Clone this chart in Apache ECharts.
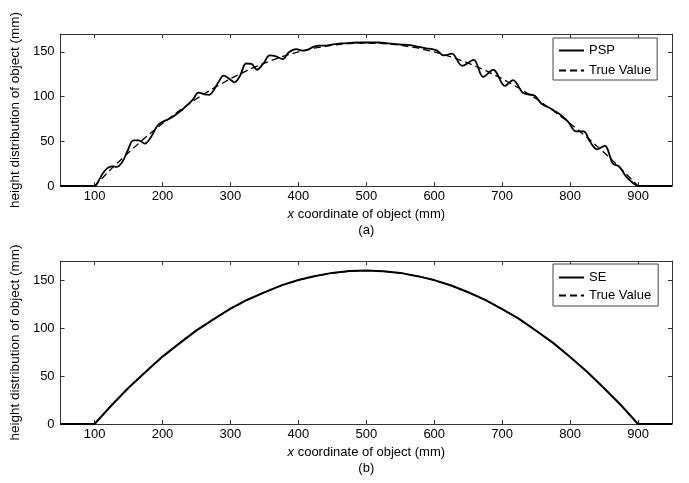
<!DOCTYPE html>
<html>
<head>
<meta charset="utf-8">
<script src="https://cdn.jsdelivr.net/npm/echarts@6/dist/echarts.min.js"></script>
<style>
html,body{margin:0;padding:0;background:#fff;}
#chart{width:689px;height:483px;}
</style>
</head>
<body>
<div id="chart"></div>
<script>
// ---- data ----
const xTicks = [100, 200, 300, 400, 500, 600, 700, 800, 900];
const yTicks = [0, 50, 100, 150];

const trueX = [50, 100, 125, 150, 175, 200, 225, 250, 275, 300, 325, 350, 375, 400, 425, 450, 475, 500,
  525, 550, 575, 600, 625, 650, 675, 700, 725, 750, 775, 800, 825, 850, 875, 900, 950];
const trueY = [0, 0, 19.4, 37.5, 54.4, 70, 84.4, 97.5, 109.4, 120, 129.4, 137.5, 144.4, 150, 154.4, 157.5, 159.4, 160,
  159.4, 157.5, 154.4, 150, 144.4, 137.5, 129.4, 120, 109.4, 97.5, 84.4, 70, 54.4, 37.5, 19.4, 0, 0];

const pspX = [50, 100, 106, 112, 119, 126, 133, 141, 149, 157, 165, 174, 184, 193, 201, 211, 222, 235, 245, 253,
  262, 269, 276, 283, 290, 299, 306, 314, 323, 331, 339, 348, 358, 367, 377, 386, 397, 406, 414, 422,
  431, 441, 451, 463, 476, 490, 505, 518, 532, 548, 565, 578, 588, 597, 604, 614, 626, 641, 658, 672,
  687, 704, 716, 731, 748, 758, 768, 777, 787, 797, 809, 820, 829, 840, 851, 863, 872, 882, 893, 900, 950];
const pspY = [0, 0, 6, 14, 20, 22, 21.5, 27, 40, 51, 51, 47.5, 56, 68, 72, 75.5, 81, 89.5, 97, 104.5,
  102.5, 102, 108, 117, 123.5, 119.5, 116, 123, 137, 136.5, 130, 136.5, 146, 145, 142, 149.5, 153, 151.5, 152.5, 155.5,
  157, 157, 158.5, 159.5, 160, 160.5, 160.5, 160.5, 159.5, 158.5, 157.5, 155.5, 154, 153, 151.5, 146, 148, 134.5, 141, 122,
  130, 112, 118.5, 104, 101, 92, 88, 84, 79, 72, 61, 61, 50, 41, 45, 25, 22, 11, 3, 0, 0];

const seX = [50, 100, 125, 150, 175, 200, 225, 250, 275, 300, 325, 350, 375, 400, 425, 450, 475, 500,
  525, 550, 575, 600, 625, 650, 675, 700, 725, 750, 775, 800, 825, 850, 875, 900, 950];
const seY = [0, 0, 19.6, 37.8, 54.2, 70.3, 84.1, 97.6, 109.2, 120.3, 129.6, 137.3, 144.6, 150.2, 154.3, 157.6, 159.5, 160.1,
  159.3, 157.6, 154.2, 150.1, 144.5, 137.4, 129.5, 119.8, 109.6, 97.3, 84.6, 69.8, 54.5, 37.3, 19.6, 0, 0];

const xTitleA = '{i|x} coordinate of object (mm)\n(a)';
const xTitleB = '{i|x} coordinate of object (mm)\n(b)';
const yTitle = 'height distribution of object (mm)';

// ---- chart ----
const FONT = '"Liberation Sans", Arial, sans-serif';
const AX = '#333';
const TXT = '#000';
const pairs = (xs, ys) => xs.map((x, i) => [x, ys[i]]);

function xAxisPair(gridIndex, title) {
  return [
    {
      type: 'value', gridIndex, min: 50, max: 950, position: 'bottom',
      axisLine: { show: true, onZero: false, lineStyle: { color: AX, width: 1 } },
      axisTick: { show: true, inside: true, length: 4, customValues: xTicks, lineStyle: { color: AX } },
      axisLabel: { customValues: xTicks, color: TXT, fontSize: 13, fontFamily: FONT, margin: 4 },
      splitLine: { show: false },
      name: title, nameLocation: 'middle', nameGap: 20,
      nameTextStyle: {
        color: TXT, fontSize: 13, fontFamily: FONT, lineHeight: 16, align: 'center',
        rich: { i: { fontStyle: 'italic', fontSize: 13, fontFamily: FONT, color: TXT, lineHeight: 16 } }
      }
    },
    {
      type: 'value', gridIndex, min: 50, max: 950, position: 'top',
      axisLine: { show: true, onZero: false, lineStyle: { color: AX, width: 1 } },
      axisTick: { show: true, inside: true, length: 4, customValues: xTicks, lineStyle: { color: AX } },
      axisLabel: { show: false }, splitLine: { show: false }
    }
  ];
}
function yAxisPair(gridIndex) {
  return [
    {
      type: 'value', gridIndex, min: 0, max: 170, position: 'left',
      axisLine: { show: true, onZero: false, lineStyle: { color: AX, width: 1 } },
      axisTick: { show: true, inside: true, length: 4, customValues: yTicks, lineStyle: { color: AX } },
      axisLabel: { customValues: yTicks, color: TXT, fontSize: 13, fontFamily: FONT, margin: 6 },
      splitLine: { show: false },
      name: yTitle, nameLocation: 'middle', nameRotate: 90, nameGap: 28,
      nameTextStyle: { color: TXT, fontSize: 13.5, fontFamily: FONT }
    },
    {
      type: 'value', gridIndex, min: 0, max: 170, position: 'right',
      axisLine: { show: true, onZero: false, lineStyle: { color: AX, width: 1 } },
      axisTick: { show: true, inside: true, length: 4, customValues: yTicks, lineStyle: { color: AX } },
      axisLabel: { show: false }, splitLine: { show: false }
    }
  ];
}

const legendBase = {
  orient: 'vertical', left: 553, itemWidth: 25, itemHeight: 14, itemGap: 7,
  padding: [6, 6, 3, 5], borderColor: '#444', borderWidth: 1, backgroundColor: '#fff',
  textStyle: { color: TXT, fontSize: 13, fontFamily: FONT }, selectedMode: false,
  itemStyle: { color: 'rgba(0,0,0,0)', borderWidth: 0, opacity: 0 }
};

const option = {
  animation: false,
  backgroundColor: '#fff',
  grid: [
    { left: 60, right: 17, top: 34, height: 152 },
    { left: 60, right: 17, top: 261, height: 163 }
  ],
  xAxis: [...xAxisPair(0, xTitleA), ...xAxisPair(1, xTitleB)],
  yAxis: [...yAxisPair(0), ...yAxisPair(1)],
  legend: [
    Object.assign({}, legendBase, { top: 38, data: ['PSP', 'True Value'] }),
    Object.assign({}, legendBase, { top: 264, itemGap: 5, padding: [7, 7, 4, 5], data: ['SE', 'True Value'] })
  ],
  series: [
    {
      name: 'PSP', type: 'line', xAxisIndex: 0, yAxisIndex: 0, data: pairs(pspX, pspY),
      symbol: 'none', smooth: 0.35, lineStyle: { color: '#000', width: 1.8 }, itemStyle: { color: '#000' }
    },
    {
      name: 'True Value', type: 'line', xAxisIndex: 0, yAxisIndex: 0, data: pairs(trueX, trueY),
      symbol: 'none', lineStyle: { color: '#000', width: 1.3, type: [7, 4] }, itemStyle: { color: '#000' }
    },
    {
      name: 'SE', type: 'line', xAxisIndex: 2, yAxisIndex: 2, data: pairs(seX, seY),
      symbol: 'none', lineStyle: { color: '#000', width: 2 }, itemStyle: { color: '#000' }
    },
    {
      name: 'True Value', type: 'line', xAxisIndex: 2, yAxisIndex: 2, data: pairs(trueX, trueY),
      symbol: 'none', lineStyle: { color: '#000', width: 1.3, type: [7, 4] }, itemStyle: { color: '#000' }
    }
  ]
};

const chart = echarts.init(document.getElementById('chart'), null, { renderer: 'canvas' });
chart.setOption(option);
</script>
</body>
</html>
